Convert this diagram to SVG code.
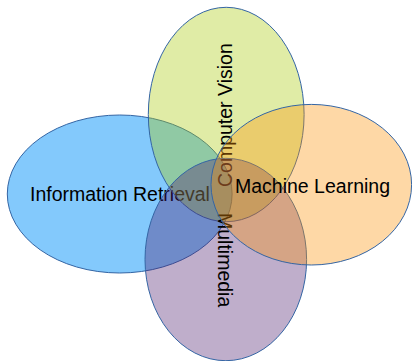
<svg xmlns="http://www.w3.org/2000/svg" width="412" height="361" viewBox="0 0 412 361">
<style>
.e{stroke:#3465a4;stroke-width:1}
.t{font-family:"Liberation Sans",Arial,sans-serif;font-size:19.5px;fill:#000}
</style>
<rect width="412" height="361" fill="#ffffff"/>
<g id="information-retrieval">
<ellipse class="e" cx="119.7" cy="194" rx="112.4" ry="79" fill="#83c9fc"/>
<text class="t" x="30" y="201">Information Retrieval</text>
</g>
<g id="computer-vision">
<ellipse class="e" cx="226.2" cy="114.5" rx="77.9" ry="107.2" fill="#a9ca08" fill-opacity="0.36"/>
<text class="t" transform="translate(232,187) rotate(-90)">Computer Vision</text>
</g>
<g id="multimedia">
<ellipse class="e" cx="225.8" cy="259.5" rx="80.8" ry="101.2" fill="#4d1e6e" fill-opacity="0.36"/>
<text class="t" transform="translate(218,213) rotate(90)">Multimedia</text>
</g>
<g id="machine-learning">
<ellipse class="e" cx="311.3" cy="184.7" rx="100.3" ry="80.3" fill="#fc9308" fill-opacity="0.36"/>
<text class="t" x="235" y="193">Machine Learning</text>
</g>
<g id="connectors"/>
</svg>
